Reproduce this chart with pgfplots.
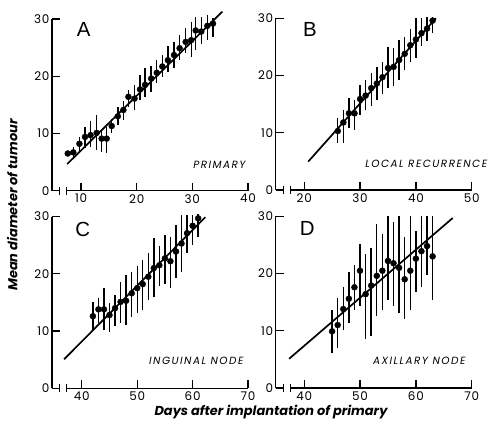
\documentclass[border=0pt]{standalone}
\usepackage{pgfplots}
\pgfplotsset{compat=1.18}
\usepackage{fontspec}
\setmainfont{Poppins}
\newfontfamily\letterfont{Liberation Sans}

\pgfplotsset{
    panel/.style={
        scale only axis,
        width=196bp,
        height=171.7bp,
        ymin=0, ymax=30,
        ytick={0,10,20,30},
        axis lines=left,
        x axis line style={draw=none},
        y axis line style={-, line width=1.4pt},
        tick align=inside,
        major tick length=8bp,
        tick style={line width=1.3pt, black},
        ticklabel style={font=\fontsize{12}{12}\selectfont\addfontfeature{LetterSpace=6}},
        yticklabel style={xshift=1bp},
        /pgf/number format/assume math mode=true,
        clip=false,
    },
    pts/.style={
        only marks, mark=*, mark size=3bp, black,
        error bars/.cd, y dir=both, y explicit,
        error bar style={line width=1.4pt}, error mark=none,
    },
    fit/.style={black, line width=1.7pt, mark=none},
}
\tikzset{
    tag/.style={anchor=base east, inner sep=0pt,
        font=\fontsize{10.5}{10.5}\selectfont\itshape\addfontfeature{LetterSpace=14}},
    letter/.style={anchor=base west, inner sep=0pt,
        font=\fontsize{20.5}{20.5}\selectfont\letterfont},
}

\begin{document}
\begin{tikzpicture}
\useasboundingbox (0,0) rectangle (491bp,422bp);

% ---------------- A: primary
\begin{axis}[panel, at={(52bp,231.3bp)}, anchor=south west,
    xmin=4.77, xmax=40, xtick={10,20,30,40}]
\draw[line width=1.4pt] (axis cs:4.77,0) -- (axis cs:6.12,0);
\draw[line width=1.2pt] (axis cs:6.12,-0.7) -- (axis cs:6.12,0.7);
\draw[line width=1.2pt] (axis cs:7.37,-0.7) -- (axis cs:7.37,0.7);
\draw[line width=1.4pt] (axis cs:7.37,0) -- (axis cs:40,0);
\addplot[pts] table[x=x, y=y,
    y error plus expr=\thisrow{hi}-\thisrow{y},
    y error minus expr=\thisrow{y}-\thisrow{lo}] {
x    y    hi   lo
7.6  6.5  7.0  6.0
8.6  6.7  7.7  5.6
9.7  8.2  9.4  6.5
10.7 9.4  11.2 7.4
11.7 9.7  12.1 7.7
12.8 10.1 13.2 7.1
13.7 9.1  10.6 6.8
14.6 9.1  11.2 6.5
15.5 11.3 12.6 10.0
16.6 13.0 14.7 11.5
17.6 14.1 15.6 12.3
18.5 16.4 17.6 14.7
19.6 16.1 18.5 14.1
20.6 17.7 20.2 15.8
21.5 18.5 21.4 16.4
22.6 19.6 21.7 17.3
23.6 20.6 22.8 18.8
24.6 21.7 23.7 19.9
25.6 22.8 25.2 20.8
26.7 23.7 26.0 21.4
27.7 24.9 27.2 22.8
28.8 26.0 28.4 24.0
29.8 26.3 29.5 23.4
30.6 28.0 30.4 24.6
31.6 27.8 30.4 25.7
32.7 28.8 30.7 26.3
33.7 29.2 30.1 26.9
};
\addplot[fit] coordinates {(7.5,4.66) (35.4,31.3)};
\node[letter] at (axis cs:9.22,26.9) {A};
\node[tag] at (axis cs:39.6,3.9) {PRIMARY};
\end{axis}

% ---------------- B: local recurrence
\begin{axis}[panel, at={(275.7bp,232bp)}, anchor=south west,
    xmin=14.88, xmax=50, xtick={20,30,40,50}]
\draw[line width=1.4pt] (axis cs:14.88,0) -- (axis cs:16.23,0);
\draw[line width=1.2pt] (axis cs:16.23,-0.7) -- (axis cs:16.23,0.7);
\draw[line width=1.2pt] (axis cs:17.48,-0.7) -- (axis cs:17.48,0.7);
\draw[line width=1.4pt] (axis cs:17.48,0) -- (axis cs:50,0);
\addplot[pts] table[x=x, y=y,
    y error plus expr=\thisrow{hi}-\thisrow{y},
    y error minus expr=\thisrow{y}-\thisrow{lo}] {
x   y    hi   lo
26  10.3 12.5 8.2
27  11.8 14.0 8.2
28  13.4 16.0 10.8
29  13.4 15.7 10.5
30  15.9 18.3 13.1
31  16.5 19.2 14.0
32  17.8 20.4 14.6
33  18.6 21.5 15.7
34  19.7 22.4 16.8
35  21.3 25.0 17.8
36  21.5 24.8 18.1
37  22.7 26.2 19.2
38  23.8 26.8 21.0
39  25.3 28.2 22.4
40  26.3 30.0 23.0
41  27.4 30.0 25.1
42  28.2 30.3 26.1
43  29.6 30.3 27.4
};
\addplot[fit] coordinates {(20.7,4.95) (43.6,30.0)};
\node[letter] at (axis cs:19.75,26.8) {B};
\node[tag] at (axis cs:52.8,3.9) {LOCAL RECURRENCE};
\end{axis}

% ---------------- C: inguinal node
\begin{axis}[panel, at={(52bp,33.7bp)}, anchor=south west,
    xmin=34.62, xmax=70, xtick={40,50,60,70}]
\draw[line width=1.4pt] (axis cs:34.62,0) -- (axis cs:35.97,0);
\draw[line width=1.2pt] (axis cs:35.97,-0.7) -- (axis cs:35.97,0.7);
\draw[line width=1.2pt] (axis cs:37.22,-0.7) -- (axis cs:37.22,0.7);
\draw[line width=1.4pt] (axis cs:37.22,0) -- (axis cs:70,0);
\addplot[pts] table[x=x, y=y,
    y error plus expr=\thisrow{hi}-\thisrow{y},
    y error minus expr=\thisrow{y}-\thisrow{lo}] {
x   y    hi   lo
42  12.6 15.0 10.2
43  13.8 15.7 11.4
44  13.8 17.5 10.2
45  12.8 14.9 9.9
46  14.0 16.3 10.8
47  15.1 18.6 11.4
48  15.3 19.8 11.1
49  16.6 20.4 12.5
50  17.5 21.3 13.1
51  18.2 22.4 13.7
52  19.5 23.6 15.4
53  21.0 26.2 16.0
54  21.5 24.8 17.8
55  22.7 26.8 18.3
56  22.2 26.5 17.5
57  23.9 28.5 19.2
58  25.3 30.3 20.4
59  27.1 30.3 23.6
60  28.4 30.3 25.0
61  29.7 30.5 26.5
};
\addplot[fit] coordinates {(36.8,5.07) (62.3,29.9)};
\node[letter] at (axis cs:38.8,26.5) {C};
\node[tag] at (axis cs:69.2,4.1) {INGUINAL NODE};
\end{axis}

% ---------------- D: axillary node
\begin{axis}[panel, at={(275.7bp,34bp)}, anchor=south west,
    xmin=34.9, xmax=70, xtick={40,50,60,70}]
\draw[line width=1.4pt] (axis cs:34.9,0) -- (axis cs:36.25,0);
\draw[line width=1.2pt] (axis cs:36.25,-0.7) -- (axis cs:36.25,0.7);
\draw[line width=1.2pt] (axis cs:37.5,-0.7) -- (axis cs:37.5,0.7);
\draw[line width=1.4pt] (axis cs:37.5,0) -- (axis cs:70,0);
\addplot[pts] table[x=x, y=y,
    y error plus expr=\thisrow{hi}-\thisrow{y},
    y error minus expr=\thisrow{y}-\thisrow{lo}] {
x   y    hi   lo
45  9.9  13.7 6.1
46  11.0 15.7 7.0
47  13.8 17.6 10.1
48  15.6 20.3 11.4
49  17.6 21.5 13.7
50  20.5 25.2 14.3
51  16.4 23.5 8.5
52  17.9 24.4 9.1
53  19.6 28.7 12.5
54  20.5 26.9 13.7
55  22.2 30.1 15.4
56  21.8 29.0 14.3
57  21.0 30.1 13.1
58  19.0 26.3 12.1
59  20.5 30.1 13.7
60  22.6 27.5 16.8
61  23.9 30.1 17.7
62  24.8 30.1 19.7
63  23.0 30.1 15.4
};
\addplot[fit] coordinates {(37.3,5.1) (66.6,29.7)};
\node[letter] at (axis cs:39.2,26.7) {D};
\node[tag] at (axis cs:68.9,4.1) {AXILLARY NODE};
\end{axis}

% shared axis titles
\node[rotate=90, anchor=base, font=\fontsize{13}{13}\selectfont\bfseries\itshape]
    at (17.3bp,217bp) {Mean diameter of tumour};
\node[anchor=base, font=\fontsize{13}{13}\selectfont\bfseries\itshape]
    at (271bp,7bp) {Days after implantation of primary};
\end{tikzpicture}
\end{document}
